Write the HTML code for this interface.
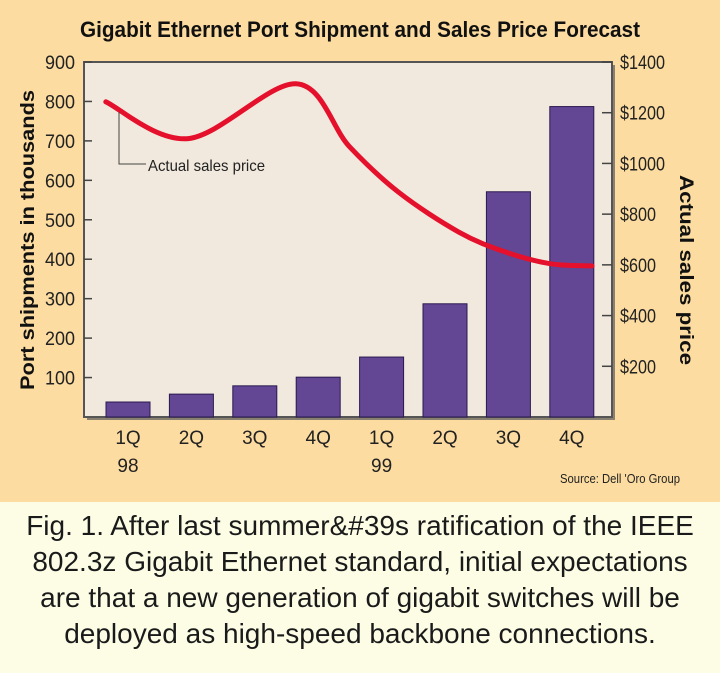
<!DOCTYPE html>
<html><head><meta charset="utf-8"><style>
html,body{margin:0;padding:0;width:720px;height:673px;overflow:hidden;background:#fcdca0}
svg{display:block}
#cap{position:absolute;left:0;top:502px;width:720px;height:171px;background:#fdfde6;font-family:"Liberation Sans",sans-serif;font-size:28px;line-height:36px;text-align:center;color:#1a1a1a;padding-top:6px;box-sizing:border-box;white-space:nowrap}
</style></head><body>
<svg id="chart" width="720" height="502" xmlns="http://www.w3.org/2000/svg"></svg>
<div id="cap">Fig. 1. After last summer&amp;#39s ratification of the IEEE<br>802.3z Gigabit Ethernet standard, initial expectations<br>are that a new generation of gigabit switches will be<br>deployed as high-speed backbone connections.</div>
<script>
const categories=["1Q","2Q","3Q","4Q","1Q","2Q","3Q","4Q"];
const yearLabels=["98","","","","99","","",""];
const shipments=[38,58,79,101,152,287,571,787];
const priceIdx=[-0.35,0.95,2.65,3.49,4.27,5.22,5.95,6.67,7.32];
const priceVals=[1243,1098,1314,1067,886,729,651,604,596];
const leftTicks=[100,200,300,400,500,600,700,800,900];
const rightTicks=[200,400,600,800,1000,1200,1400];

const NS="http://www.w3.org/2000/svg";
const svg=document.getElementById('chart');
const L=84,R=612,T=62,B=417;
const xs=i=>128+i*63.4;
const yL=v=>B-v*(B-T)/900;
const yR=v=>B-v*(B-T)/1400;
function mk(t,a,p){const e=document.createElementNS(NS,t);for(const k in a)e.setAttribute(k,a[k]);(p||svg).appendChild(e);return e;}
const F='"Liberation Sans Narrow","Liberation Sans",sans-serif';

let t=mk('text',{x:360,y:37,'text-anchor':'middle','font-family':F,'font-weight':'bold','font-size':22,fill:'#111',textLength:560,lengthAdjust:'spacingAndGlyphs'});
t.textContent='Gigabit Ethernet Port Shipment and Sales Price Forecast';



let sh=mk('rect',{x:L+3,y:T+3,width:R-L,height:B-T,fill:'#8a8070'});
let pa=mk('rect',{x:L,y:T,width:R-L,height:B-T,fill:'#f1e9dd',stroke:'#555',"stroke-width":2});



leftTicks.forEach(v=>{
  const y=yL(v);
  mk('line',{x1:L,x2:L+8,y1:y,y2:y,stroke:'#444','stroke-width':1.5});
  const e=mk('text',{x:75,y:y+7,'text-anchor':'end','font-family':F,'font-size':19,fill:'#222',textLength:String(v).length*10,lengthAdjust:'spacingAndGlyphs'});
  e.textContent=v;
  
  
});
rightTicks.forEach(v=>{
  const y=yR(v);
  mk('line',{x1:R-10,x2:R,y1:y,y2:y,stroke:'#444','stroke-width':1.5});
  const e=mk('text',{x:620,y:y+7,'font-family':F,'font-size':19,fill:'#222',textLength:(String(v).length+1)*9,lengthAdjust:'spacingAndGlyphs'});
  e.textContent='$'+v;
  
  
});

shipments.forEach((v,i)=>{
  const b=mk('rect',{x:xs(i)-22,y:yL(v),width:44,height:B-yL(v),fill:'#634694',stroke:'#2a1a50','stroke-width':1});
  
  
  const c=mk('text',{x:xs(i),y:444,'text-anchor':'middle','font-family':F,'font-size':19,fill:'#222'});
  c.textContent=categories[i];
  
  
  if(yearLabels[i]){
    const yl=mk('text',{x:xs(i),y:472,'text-anchor':'middle','font-family':F,'font-size':19,fill:'#222'});
    yl.textContent=yearLabels[i];
    
    
  }
});

const P=priceIdx.map((ix,k)=>[xs(ix),yR(priceVals[k])]);
let d='M'+P[0][0]+','+P[0][1];
for(let k=0;k<P.length-1;k++){
  const p0=P[k-1]||P[k],p1=P[k],p2=P[k+1],p3=P[k+2]||p2;
  d+=' C'+(p1[0]+(p2[0]-p0[0])/6)+','+(p1[1]+(p2[1]-p0[1])/6)+' '+(p2[0]-(p3[0]-p1[0])/6)+','+(p2[1]-(p3[1]-p1[1])/6)+' '+p2[0]+','+p2[1];
}
const ln=mk('path',{d:d,fill:'none',stroke:'#e5102c','stroke-width':5,'stroke-linecap':'round'});



mk('polyline',{points:'119,112 119,164 146,164',fill:'none',stroke:'#444','stroke-width':1});
const an=mk('text',{x:148,y:171,'font-family':F,'font-size':16,fill:'#222',textLength:117,lengthAdjust:'spacingAndGlyphs'});
an.textContent='Actual sales price';



const yt=mk('text',{transform:'translate(34,240) rotate(-90)','text-anchor':'middle','font-family':F,'font-weight':'bold','font-size':19,fill:'#111',textLength:300,lengthAdjust:'spacingAndGlyphs'});
yt.textContent='Port shipments in thousands';


const rt=mk('text',{transform:'translate(680,270) rotate(90)','text-anchor':'middle','font-family':F,'font-weight':'bold','font-size':19,fill:'#111',textLength:190,lengthAdjust:'spacingAndGlyphs'});
rt.textContent='Actual sales price';



const src=mk('text',{x:560,y:483,'font-family':F,'font-size':13,fill:'#222',textLength:120,lengthAdjust:'spacingAndGlyphs'});
src.textContent="Source: Dell 'Oro Group";


</script>
</body></html>
